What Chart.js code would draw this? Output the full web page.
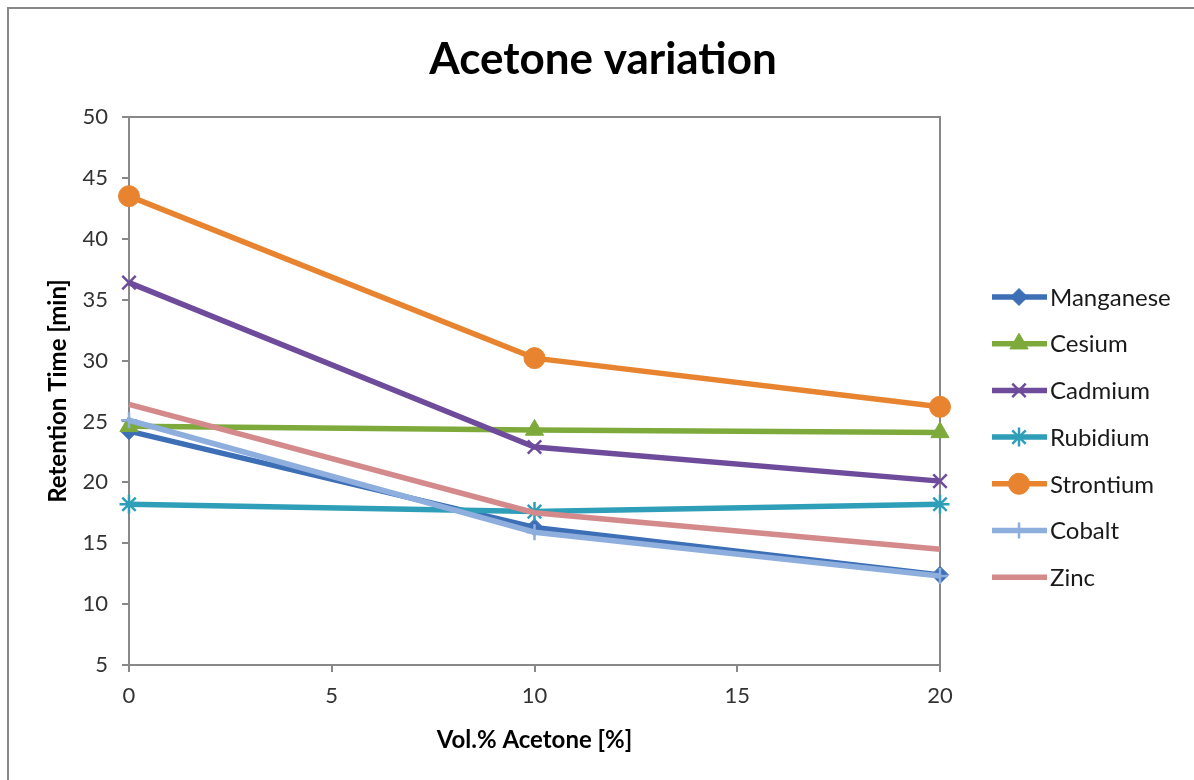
<!DOCTYPE html>
<html><head><meta charset="utf-8">
<script src="https://cdn.jsdelivr.net/npm/chart.js@4.4.1/dist/chart.umd.min.js"></script>
<style>html,body{margin:0;padding:0;background:#fff;}#wrap{width:1194px;height:780px;position:relative;}</style>
</head><body><div id="wrap"><canvas id="c" width="1194" height="780"></canvas></div>
<script>
const xValues = [0, 10, 20];
const seriesNames = ['Manganese', 'Cesium', 'Cadmium', 'Rubidium', 'Strontium', 'Cobalt', 'Zinc'];
const manganese = [24.2, 16.3, 12.4];
const cesium = [24.6, 24.3, 24.1];
const cadmium = [36.4, 22.9, 20.1];
const rubidium = [18.2, 17.6, 18.2];
const strontium = [43.5, 30.2, 26.2];
const cobalt = [25.1, 15.9, 12.3];
const zinc = [26.4, 17.5, 14.5];
const xTicks = [0, 5, 10, 15, 20];
const yTicks = [5, 10, 15, 20, 25, 30, 35, 40, 45, 50];
const chartTitle = 'Acetone variation';

const seriesValues = [manganese, cesium, cadmium, rubidium, strontium, cobalt, zinc];
const styles = [
  {color: '#3d6fb6', point: 'rectRot', r: 8.5, bw: 1},
  {color: '#7eaa3c', point: 'triangle', r: 10.5, bw: 1},
  {color: '#6f4c9b', point: 'crossRot', r: 9.5, bw: 2.5},
  {color: '#2f9eb8', point: 'star', r: 9.5, bw: 2.5},
  {color: '#e8842f', point: 'circle', r: 10.5, bw: 1},
  {color: '#8eaede', point: 'cross', r: 8, bw: 2.5},
  {color: '#d48a8a', point: false, r: 0, bw: 0}
];

const datasets = seriesNames.map((name, i) => ({
  label: name,
  data: xValues.map((x, j) => ({x: x, y: seriesValues[i][j]})),
  borderColor: styles[i].color,
  backgroundColor: styles[i].color,
  borderWidth: 5.5,
  pointStyle: styles[i].point,
  pointRadius: styles[i].r,
  pointHoverRadius: styles[i].r,
  pointBackgroundColor: styles[i].color,
  pointBorderColor: styles[i].color,
  pointBorderWidth: styles[i].bw,
  tension: 0,
  clip: false,
  order: seriesNames.length - i
}));

const GRAY = '#888888';

const framePlugin = {
  id: 'frame',
  beforeDraw(chart) {
    const ctx = chart.ctx;
    ctx.save();
    ctx.fillStyle = '#ffffff';
    ctx.fillRect(0, 0, chart.width, chart.height);
    ctx.strokeStyle = GRAY;
    ctx.lineWidth = 2;
    ctx.beginPath();
    ctx.moveTo(8, chart.height);
    ctx.lineTo(8, 8);
    ctx.lineTo(chart.width, 8);
    ctx.stroke();
    ctx.fillStyle = '#000';
    ctx.font = 'bold 44px Lato';
    ctx.textAlign = 'center';
    ctx.textBaseline = 'middle';
    ctx.fillText(chartTitle, 603, 60);
    ctx.restore();
  },
  beforeDatasetsDraw(chart) {
    const a = chart.chartArea;
    const ctx = chart.ctx;
    ctx.save();
    ctx.strokeStyle = GRAY;
    ctx.lineWidth = 2;
    ctx.beginPath();
    ctx.moveTo(a.left, a.top);
    ctx.lineTo(a.right, a.top);
    ctx.lineTo(a.right, a.bottom + 7);
    ctx.stroke();
    ctx.restore();
  }
};

const legendPlugin = {
  id: 'customLegend',
  afterDraw(chart) {
    const ctx = chart.ctx;
    chart.data.datasets.forEach((ds, i) => {
      const y = 297 + i * 46.7;
      ctx.save();
      ctx.strokeStyle = ds.borderColor;
      ctx.lineWidth = ds.borderWidth;
      ctx.beginPath();
      ctx.moveTo(992, y);
      ctx.lineTo(1047, y);
      ctx.stroke();
      if (ds.pointRadius > 0 && Chart.helpers && Chart.helpers.drawPoint) {
        ctx.fillStyle = ds.pointBackgroundColor;
        ctx.strokeStyle = ds.pointBorderColor;
        ctx.lineWidth = ds.pointBorderWidth;
        Chart.helpers.drawPoint(ctx, {pointStyle: ds.pointStyle, radius: ds.pointRadius, borderWidth: ds.pointBorderWidth, rotation: 0}, 1019, y);
      }
      ctx.fillStyle = '#1a1a1a';
      ctx.font = '24px Lato';
      ctx.textBaseline = 'middle';
      ctx.textAlign = 'left';
      ctx.fillText(ds.label, 1050, y + 1);
      ctx.restore();
    });
  }
};

new Chart(document.getElementById('c'), {
  type: 'line',
  data: {datasets: datasets},
  plugins: [framePlugin, legendPlugin],
  options: {
    responsive: false,
    animation: false,
    devicePixelRatio: 1,
    layout: {padding: {left: 0, right: 254, top: 117, bottom: 0}},
    plugins: {
      legend: {display: false},
      tooltip: {enabled: false},
      title: {display: false}
    },
    scales: {
      x: {
        type: 'linear',
        min: 0, max: 20,
        afterFit(s) { s.height = 115; },
        afterBuildTicks(s) { s.ticks = xTicks.map(v => ({value: v})); },
        grid: {drawOnChartArea: false, drawTicks: true, tickLength: 7, color: GRAY, lineWidth: 2},
        border: {display: true, color: GRAY, width: 2},
        ticks: {color: '#333', font: {family: 'Lato', size: 22}, padding: 11, maxRotation: 0},
        title: {display: true, text: 'Vol.% Acetone [%]', color: '#000', font: {family: 'Lato', size: 24, weight: 'bold', lineHeight: 1.2}, padding: {top: 0, bottom: 25}}
      },
      y: {
        min: 5, max: 50,
        afterFit(s) { s.width = 129; },
        afterBuildTicks(s) { s.ticks = yTicks.map(v => ({value: v})); },
        grid: {drawOnChartArea: false, drawTicks: true, tickLength: 7, color: GRAY, lineWidth: 2},
        border: {display: true, color: GRAY, width: 2},
        ticks: {color: '#333', font: {family: 'Lato', size: 22}, padding: 14},
        title: {display: true, text: 'Retention Time [min]', color: '#000', font: {family: 'Lato', size: 24, weight: 'bold', lineHeight: 1.2}, padding: {top: 44, bottom: 0}}
      }
    }
  }
});
</script></body></html>
